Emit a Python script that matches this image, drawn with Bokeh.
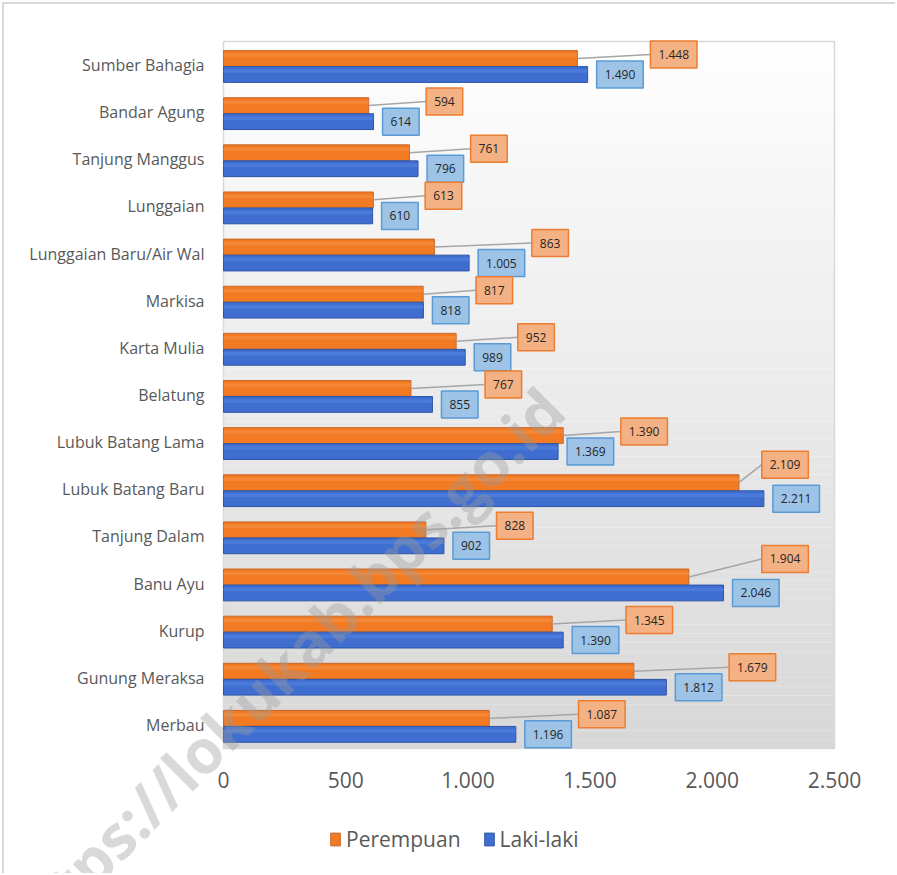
from bokeh.plotting import figure
from bokeh.models import (Range1d, FixedTicker, Legend, LegendItem, Label,
                          ColumnDataSource)
from bokeh.embed import file_html
from bokeh.resources import INLINE
from bokeh.core.properties import value

# ---------------- data ----------------
categories = ["Merbau", "Gunung Meraksa", "Kurup", "Banu Ayu", "Tanjung Dalam",
              "Lubuk Batang Baru", "Lubuk Batang Lama", "Belatung", "Karta Mulia",
              "Markisa", "Lunggaian Baru/Air Wal", "Lunggaian", "Tanjung Manggus",
              "Bandar Agung", "Sumber Bahagia"]
perempuan = [1087, 1679, 1345, 1904, 828, 2109, 1390, 767, 952, 817, 863, 613, 761, 594, 1448]
laki_laki = [1196, 1812, 1390, 2046, 902, 2211, 1369, 855, 989, 818, 1005, 610, 796, 614, 1490]
xtick_values = [0, 500, 1000, 1500, 2000, 2500]
xtick_labels = ["0", "500", "1.000", "1.500", "2.000", "2.500"]
series_names = ["Perempuan", "Laki-laki"]
watermark = "https://lokukab.bps.go.id"

# ---------------- layout constants ----------------
OX, OY = 4, 4                     # page offset of the figure content
W, H = 893, 871
PL, PT, PW, PH = 223 - OX, 41 - OY, 611, 707   # plot area inside canvas
XMAX = 2500
n = len(categories)
ppu = PW / XMAX          # px per x unit
ppy = PH / n             # px per category

x0 = -PL / ppu
x1 = (W - PL) / ppu
y1 = (n - 0.5) + PT / ppy
y0 = -0.5 - (H - PT - PH) / ppy

ORANGE = "#F27A22"
ORANGE_LINE = "#C7682C"
BLUE = "#3F6ED0"
BLUE_LINE = "#2D55A6"
GREY_TXT = "#595959"
FONT = "Open Sans"

def fmt(v):
    return f"{v:,}".replace(",", ".")

p = figure(width=W, height=H, output_backend="svg", toolbar_location=None,
           x_range=Range1d(x0, x1), y_range=Range1d(y0, y1),
           min_border_left=0, min_border_right=0, min_border_top=0,
           min_border_bottom=0)
p.title.visible = False
p.styles = {"margin-left": "2px", "margin-top": "2px",
            "border-left": "2px solid #D9D9D9", "border-top": "2px solid #D9D9D9"}
p.background_fill_color = "white"
p.border_fill_color = "white"
p.outline_line_color = None
p.xgrid.visible = False
p.ygrid.visible = False

# gradient background of plot area (styling)
nb = 80
bands_b, bands_t, bands_c = [], [], []
for i in range(nb):
    t = i / (nb - 1)  # 0 bottom -> 1 top
    g = int(round(0xD8 + (0xFE - 0xD8) * t))
    bands_b.append(-0.5 + n * i / nb)
    bands_t.append(-0.5 + n * (i + 1) / nb + 0.001)
    bands_c.append(f"#{g:02x}{g:02x}{g:02x}")
p.quad(left=0, right=XMAX, bottom=bands_b, top=bands_t, fill_color=bands_c,
       line_color=None)
p.quad(left=0, right=XMAX, bottom=-0.5, top=n - 0.5, fill_color=None,
       line_color="#D9D9D9", line_width=1.5)

idx = list(range(n))
y_or = [i + 0.14 for i in idx]
y_bl = [i - 0.20 for i in idx]
bh = 0.335

r_or = p.hbar(y=y_or, right=perempuan, left=0, height=bh, fill_color=ORANGE,
              line_color=ORANGE_LINE, line_width=1)
r_bl = p.hbar(y=y_bl, right=laki_laki, left=0, height=bh, fill_color=BLUE,
              line_color=BLUE_LINE, line_width=1)
# light highlight strip for the 3D look
p.hbar(y=[y + bh * 0.22 for y in y_or], right=perempuan, left=0, height=bh * 0.22,
       fill_color="#F89A50", fill_alpha=0.45, line_color=None)
p.hbar(y=[y + bh * 0.22 for y in y_bl], right=laki_laki, left=0, height=bh * 0.22,
       fill_color="#5B8BE6", fill_alpha=0.45, line_color=None)

# ---------------- data labels ----------------
PAD = 8
GAP = 9
def box_w(s):
    digits = sum(ch.isdigit() for ch in s)
    return 2 * PAD + digits * 6.86 + (3.3 if "." in s else 0)

bl_txt = [fmt(v) for v in laki_laki]
or_txt = [fmt(v) for v in perempuan]
bl_xoff, or_xoff, or_yoff, seg_x0, seg_y0, seg_x1, seg_y1 = [], [], [], [], [], [], []
for i in idx:
    bpx = laki_laki[i] * ppu
    bw_b = box_w(bl_txt[i])
    bw_o = box_w(or_txt[i])
    bl_xoff.append(GAP)
    left_o = bpx + GAP + bw_b + 7
    dy = -4
    limit = PW - 26
    if left_o + bw_o > limit:
        left_o = limit - bw_o
        dy = -18
    or_xoff.append(left_o - bpx)
    or_yoff.append(dy)
    seg_x0.append(perempuan[i])
    seg_y0.append(y_or[i])
    seg_x1.append(left_o / ppu)
    seg_y1.append(y_or[i] - dy / ppy)

p.segment(x0=seg_x0, y0=seg_y0, x1=seg_x1, y1=seg_y1, line_color="#A6A6A6",
          line_width=1.5)

src_b = ColumnDataSource(dict(x=laki_laki, y=y_bl, t=bl_txt, xo=bl_xoff))
p.text(x="x", y="y", text="t", x_offset="xo", source=src_b, text_align="left",
       text_baseline="middle", text_font=value(FONT), text_font_size="12px",
       text_color="#262626", background_fill_color="#9DC3E6",
       border_line_color="#5B9BD5", border_line_width=1.5,
       padding=dict(left=PAD, right=PAD, top=9, bottom=9))
src_o = ColumnDataSource(dict(x=laki_laki, y=y_or, t=or_txt, xo=or_xoff, yo=or_yoff))
p.text(x="x", y="y", text="t", x_offset="xo", y_offset="yo", source=src_o,
       text_align="left", text_baseline="middle", text_font=value(FONT),
       text_font_size="12px", text_color="#262626",
       background_fill_color="#F4B183", border_line_color="#ED7D31",
       border_line_width=1.5, padding=dict(left=PAD, right=PAD, top=9, bottom=9))

# ---------------- axes (drawn at the plot-area edges) ----------------
p.xaxis.fixed_location = -0.5
p.xaxis.ticker = FixedTicker(ticks=xtick_values)
p.xaxis.major_label_overrides = {v: l for v, l in zip(xtick_values, xtick_labels)}
p.xaxis.major_label_text_font = FONT
p.xaxis.major_label_text_font_size = "21px"
p.xaxis.major_label_text_color = GREY_TXT
p.xaxis.major_label_standoff = 17
p.yaxis.fixed_location = 0
p.yaxis.ticker = FixedTicker(ticks=idx)
p.yaxis.major_label_overrides = {i: c for i, c in zip(idx, categories)}
p.yaxis.major_label_text_font = FONT
p.yaxis.major_label_text_font_size = "16px"
p.yaxis.major_label_text_color = GREY_TXT
p.yaxis.major_label_standoff = 13
for ax in (p.xaxis, p.yaxis):
    ax.axis_line_color = None
    ax.major_tick_line_color = None
    ax.minor_tick_line_color = None

# ---------------- legend ----------------
legend = Legend(items=[LegendItem(label=series_names[0], renderers=[r_or]),
                       LegendItem(label=series_names[1], renderers=[r_bl])],
                orientation="horizontal", location=(325, 22),
                background_fill_alpha=0, border_line_color=None,
                label_text_font=FONT, label_text_font_size="21px",
                label_text_color=GREY_TXT, glyph_width=12, glyph_height=16,
                label_standoff=5, spacing=22, padding=0, margin=0)
p.add_layout(legend, "center")

# ---------------- watermark ----------------
wm = Label(x=(552 - 223) / ppu, y=(748 - 398) / ppy - 0.5,
           text=watermark, angle=45, angle_units="deg", text_align="right",
           text_baseline="middle", text_font=FONT, text_font_size="61px",
           text_font_style="bold", text_color="#9A9A9A", text_alpha=0.38)
p.add_layout(wm)

open("out.html", "w").write(file_html(p, INLINE))
